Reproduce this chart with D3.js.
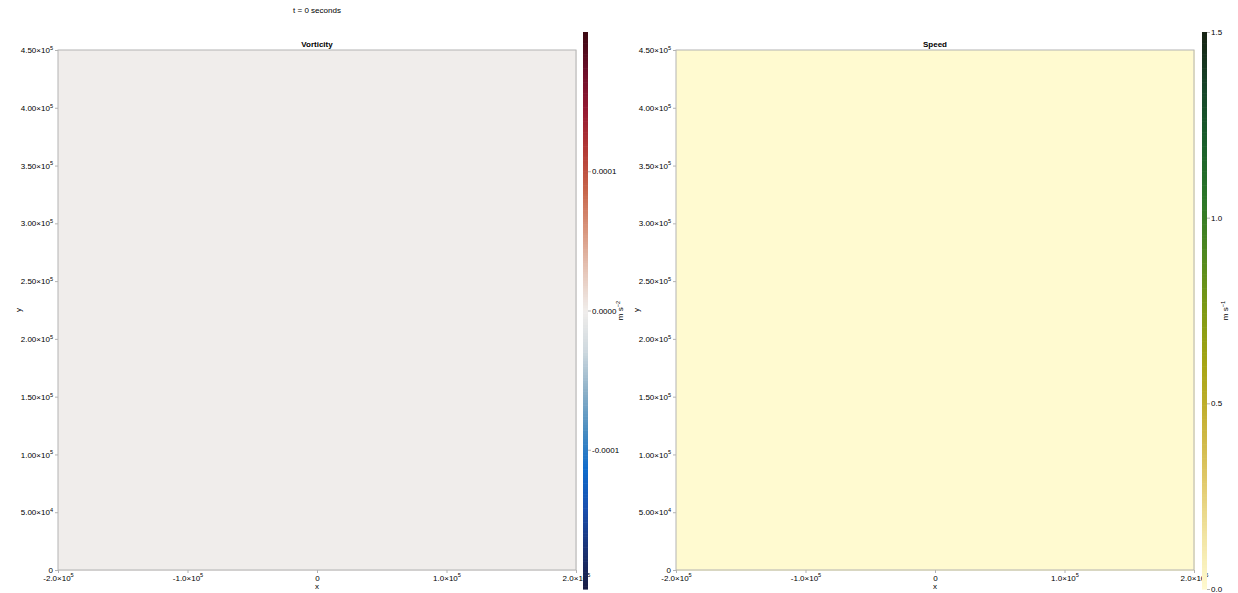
<!DOCTYPE html>
<html>
<head>
<meta charset="utf-8">
<script src="https://cdn.jsdelivr.net/npm/d3@7"></script>
<style>
  html, body { margin: 0; padding: 0; background: #fff; }
  svg { display: block; font-family: "Liberation Sans", Arial, sans-serif; }
</style>
</head>
<body>
<svg id="fig" width="1238" height="593"></svg>
<script>
// Grid cell edges of the model domain (metres)
const xEdges = [-200000, -100000, 0, 100000, 200000];
const yEdges = [0, 112500, 225000, 337500, 450000];

// Fields at t = 0 (rows follow yEdges, columns follow xEdges)
const vorticity = [
  [0, 0, 0, 0],
  [0, 0, 0, 0],
  [0, 0, 0, 0],
  [0, 0, 0, 0]
];
const speed = [
  [0, 0, 0, 0],
  [0, 0, 0, 0],
  [0, 0, 0, 0],
  [0, 0, 0, 0]
];

// Axis ticks
const xTicks = [-200000, -100000, 0, 100000, 200000];
const xTickLabels = ["-2.0\u00d710^5", "-1.0\u00d710^5", "0", "1.0\u00d710^5", "2.0\u00d710^5"];
const yTicks = [0, 50000, 100000, 150000, 200000, 250000, 300000, 350000, 400000, 450000];
const yTickLabels = ["0", "5.00\u00d710^4", "1.00\u00d710^5", "1.50\u00d710^5", "2.00\u00d710^5",
                     "2.50\u00d710^5", "3.00\u00d710^5", "3.50\u00d710^5", "4.00\u00d710^5", "4.50\u00d710^5"];

// Colorbar ranges and ticks
const vortRange = [-0.0002, 0.0002];
const vortTicks = [-0.0001, 0, 0.0001];
const vortTickLabels = ["-0.0001", "0.0000", "0.0001"];
const speedRange = [0, 1.5];
const speedTicks = [0, 0.5, 1.0, 1.5];
const speedTickLabels = ["0.0", "0.5", "1.0", "1.5"];

// Diverging (balance-like) and sequential (speed-like) colour stops
const balanceStops = ["#181c43", "#1b3374", "#1a4fae", "#0f6bcb", "#4a8dc0", "#8eb1c8",
                      "#cfd9df", "#f0edeb", "#e6c6b8", "#d9977f", "#c8674c", "#b43c36",
                      "#971b33", "#6d0f2a", "#3c0912"];
const speedStops = ["#fffad0", "#f1e3a0", "#e0c868", "#c8b238", "#a8a514", "#7f9a14",
                    "#51891f", "#2c7729", "#1a5f2b", "#17452a", "#172313"];

const title = "t = 0 seconds";
const panels = [
  { name: "Vorticity", data: vorticity, range: vortRange, ticks: vortTicks, tickLabels: vortTickLabels,
    stops: balanceStops, unit: ["m s", "\u22122"], x0: 58, x1: 576, cbX: 583 },
  { name: "Speed", data: speed, range: speedRange, ticks: speedTicks, tickLabels: speedTickLabels,
    stops: speedStops, unit: ["m s", "\u22121"], x0: 676, x1: 1194, cbX: 1202 }
];

const svg = d3.select("#fig");
const plotTop = 50, plotBottom = 570;
const cbTop = 32, cbBottom = 589, cbWidth = 5;
const fs = 8;
const frameColor = "#b3b3b3";

// Write "a×10^b" as text with a raised exponent
function sciText(sel, label) {
  const parts = label.split("^");
  sel.text(null);
  sel.append("tspan").text(parts[0]);
  if (parts.length > 1) {
    sel.append("tspan").attr("dy", -3.2).attr("font-size", fs * 0.7).text(parts[1]);
  }
}

svg.append("text")
  .attr("x", (panels[0].x0 + panels[0].x1) / 2).attr("y", 13)
  .attr("text-anchor", "middle").attr("font-size", fs).text(title);

panels.forEach(p => {
  const x = d3.scaleLinear().domain([xEdges[0], xEdges[xEdges.length - 1]]).range([p.x0, p.x1]);
  const y = d3.scaleLinear().domain([yEdges[0], yEdges[yEdges.length - 1]]).range([plotBottom, plotTop]);
  const color = d3.scaleLinear()
    .domain(d3.range(p.stops.length).map(i => p.range[0] + (p.range[1] - p.range[0]) * i / (p.stops.length - 1)))
    .range(p.stops).interpolate(d3.interpolateRgb).clamp(true);

  const g = svg.append("g");

  // heatmap cells
  const cells = [];
  p.data.forEach((row, j) => row.forEach((v, i) => cells.push({ i, j, v })));
  g.selectAll("rect.cell").data(cells).join("rect")
    .attr("class", "cell")
    .attr("x", d => x(xEdges[d.i]))
    .attr("y", d => y(yEdges[d.j + 1]))
    .attr("width", d => x(xEdges[d.i + 1]) - x(xEdges[d.i]) + 0.5)
    .attr("height", d => y(yEdges[d.j]) - y(yEdges[d.j + 1]) + 0.5)
    .attr("fill", d => color(d.v))
    .attr("shape-rendering", "crispEdges");

  // frame
  g.append("rect")
    .attr("x", p.x0).attr("y", plotTop)
    .attr("width", p.x1 - p.x0).attr("height", plotBottom - plotTop)
    .attr("fill", "none").attr("stroke", frameColor).attr("stroke-width", 1);

  // x axis
  const xa = g.append("g").attr("transform", `translate(0,${plotBottom})`)
    .call(d3.axisBottom(x).tickValues(xTicks).tickSize(3).tickPadding(2).tickSizeOuter(0));
  xa.select(".domain").remove();
  xa.selectAll(".tick line").attr("stroke", frameColor);
  xa.selectAll(".tick text").attr("font-size", fs).attr("fill", "#000")
    .attr("font-family", null)
    .each(function (d, i) { sciText(d3.select(this), xTickLabels[i]); });

  // y axis
  const ya = g.append("g").attr("transform", `translate(${p.x0},0)`)
    .call(d3.axisLeft(y).tickValues(yTicks).tickSize(3).tickPadding(2).tickSizeOuter(0));
  ya.select(".domain").remove();
  ya.selectAll(".tick line").attr("stroke", frameColor);
  ya.selectAll(".tick text").attr("font-size", fs).attr("fill", "#000")
    .attr("font-family", null)
    .each(function (d, i) { sciText(d3.select(this), yTickLabels[i]); });

  // axis labels and title
  g.append("text").attr("x", (p.x0 + p.x1) / 2).attr("y", 589)
    .attr("text-anchor", "middle").attr("font-size", fs).text("x");
  g.append("text").attr("transform", `translate(${p.x0 - 37},${(plotTop + plotBottom) / 2}) rotate(-90)`)
    .attr("text-anchor", "middle").attr("font-size", fs).text("y");
  g.append("text").attr("x", (p.x0 + p.x1) / 2).attr("y", 47)
    .attr("text-anchor", "middle").attr("font-size", fs).attr("font-weight", "bold").text(p.name);

  // colorbar
  const cy = d3.scaleLinear().domain(p.range).range([cbBottom, cbTop]);
  const nSteps = 200;
  const steps = d3.range(nSteps).map(k => p.range[0] + (p.range[1] - p.range[0]) * (k + 0.5) / nSteps);
  const dv = (p.range[1] - p.range[0]) / nSteps;
  const cb = svg.append("g");
  cb.selectAll("rect").data(steps).join("rect")
    .attr("x", p.cbX).attr("width", cbWidth)
    .attr("y", d => cy(d + dv / 2))
    .attr("height", d => cy(d - dv / 2) - cy(d + dv / 2) + 0.6)
    .attr("fill", d => color(d));
  const ca = cb.append("g").attr("transform", `translate(${p.cbX + cbWidth},0)`)
    .call(d3.axisRight(cy).tickValues(p.ticks).tickSize(3).tickPadding(1).tickSizeOuter(0));
  ca.select(".domain").remove();
  ca.selectAll(".tick line").attr("stroke", frameColor);
  ca.selectAll(".tick text").attr("font-size", fs).attr("fill", "#000")
    .attr("font-family", null)
    .text((d, i) => p.tickLabels[i]);

  // colorbar unit label
  const ux = p.cbX + (p === panels[0] ? 40 : 26);
  const ut = cb.append("text")
    .attr("transform", `translate(${ux},${(cbTop + cbBottom) / 2}) rotate(-90)`)
    .attr("text-anchor", "middle").attr("font-size", fs);
  ut.append("tspan").text(p.unit[0]);
  ut.append("tspan").attr("dy", -3.2).attr("font-size", fs * 0.7).text(p.unit[1]);
});
</script>
</body>
</html>
